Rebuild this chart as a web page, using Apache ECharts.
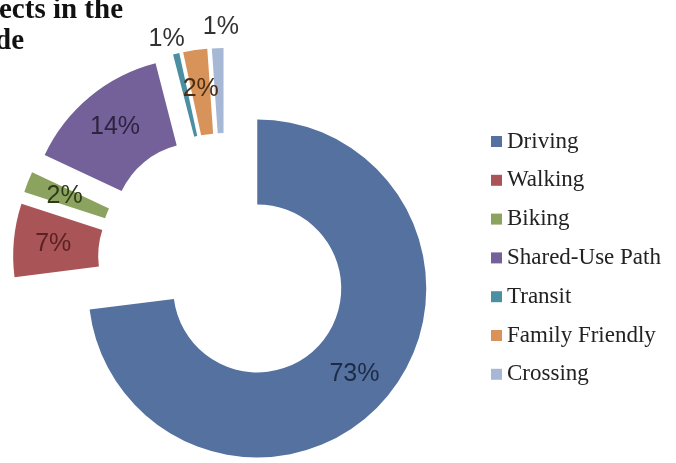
<!doctype html>
<html lang="en">
<head>
<meta charset="UTF-8">
<title>Projects by type</title>
<script src="https://cdn.jsdelivr.net/npm/echarts@6/dist/echarts.min.js"></script>
<style>
  html, body { margin: 0; padding: 0; background: #fff; }
  #main { width: 676px; height: 463px; }
</style>
</head>
<body>
<div id="main"></div>
<script>
// data
var categories = ['Driving', 'Walking', 'Biking', 'Shared-Use Path', 'Transit', 'Family Friendly', 'Crossing'];
var shares = [73, 7, 2, 14, 0.6, 2.3, 1.1];
var colors = ['#5471a0', '#a95457', '#8ba35f', '#74619a', '#4b8fa3', '#d8935a', '#a6b8d6'];
var labelColors = ['#1e2b45', '#5b2223', '#2e3b1a', '#2d2340', '#333333', '#4d2c10', '#333333'];
var outsideLabel = ['Transit', 'Crossing'];

var serif = '"Liberation Serif", "Times New Roman", serif';
var pctFont = '"Liberation Sans Narrow", "Liberation Sans", sans-serif';

var slices = categories.map(function (name, i) {
    var outside = outsideLabel.indexOf(name) >= 0;
    return {
        name: name,
        value: shares[i],
        selected: true,
        itemStyle: { color: colors[i] },
        label: {
            position: outside ? 'outside' : 'inside',
            color: labelColors[i],
            distanceToLabelLine: name === 'Crossing' ? -22 : (outside ? -12 : 5)
        },
        labelLine: { length: name === 'Transit' ? 15 : 21 }
    };
});

var myChart = echarts.init(document.getElementById('main'), null, { renderer: 'canvas' });

var option = {
    animation: false,
    backgroundColor: '#ffffff',
    title: [
        { text: 'ects in the', left: -1, top: -5, padding: 0,
          textStyle: { fontFamily: serif, fontWeight: 'bold', fontSize: 29, lineHeight: 31, color: '#111' } },
        { text: 'de', left: -5, top: 26, padding: 0,
          textStyle: { fontFamily: serif, fontWeight: 'bold', fontSize: 29, lineHeight: 31, color: '#111' } }
    ],
    legend: {
        orient: 'vertical',
        left: 486,
        top: 125,
        itemWidth: 11,
        itemHeight: 11,
        itemGap: 15.8,
        icon: 'rect',
        selectedMode: false,
        textStyle: { fontFamily: serif, fontSize: 23, lineHeight: 22, color: '#222' },
        data: categories
    },
    series: [{
        type: 'pie',
        center: [225, 260],
        radius: [84, 169],
        startAngle: 90,
        clockwise: true,
        selectedMode: 'multiple',
        selectedOffset: 43,
        avoidLabelOverlap: false,
        minShowLabelAngle: 0,
        labelLayout: { hideOverlap: false },
        silent: true,
        itemStyle: { borderWidth: 0 },
        label: {
            show: true,
            fontFamily: pctFont,
            fontSize: 25,
            formatter: function (p) { return Math.round(p.value) + '%'; }
        },
        labelLine: { show: false, length: 21, length2: 0 },
        select: { itemStyle: { borderWidth: 0 } },
        emphasis: { disabled: true },
        data: slices
    }]
};

myChart.setOption(option);
</script>
</body>
</html>
